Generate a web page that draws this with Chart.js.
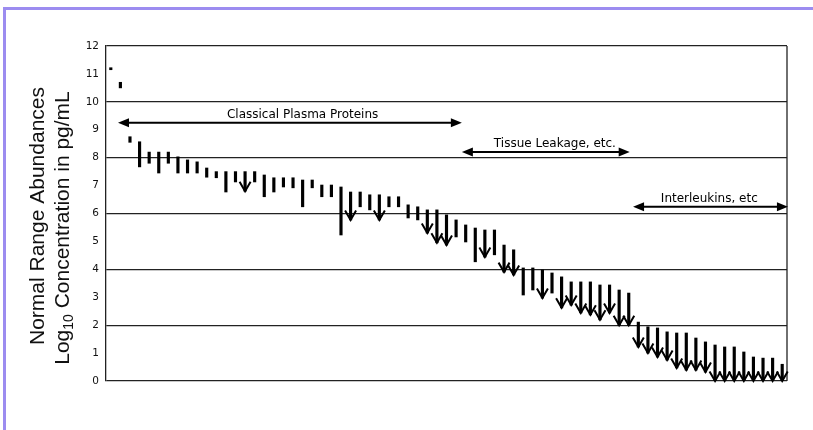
<!DOCTYPE html>
<html>
<head>
<meta charset="utf-8">
<title>Normal range abundances</title>
<script src="https://cdn.jsdelivr.net/npm/chart.js@4.4.1/dist/chart.umd.min.js"></script>
<style>
  html, body { margin: 0; padding: 0; background: #fff; }
  #frame {
    position: absolute; left: 3px; top: 7px; width: 810px; height: 423px;
    border-top: 3px solid #9c8cf0; border-left: 3px solid #9c8cf0;
    box-sizing: border-box;
  }
  #wrap { position: absolute; left: 0; top: 0; width: 813px; height: 430px; }
</style>
</head>
<body>
<div id="frame"></div>
<div id="wrap"><canvas id="chart"></canvas></div>
<script>
// log10 pg/mL, one entry per protein (left = most abundant)
const lowValues = [
  11.15, 10.5, 8.55, 7.67, 7.8, 7.45, 7.8, 7.45, 7.45, 7.45,
  7.3, 7.28, 6.77, 7.13, 6.8, 7.13, 6.6, 6.77, 6.95, 6.92,
  6.24, 6.92, 6.6, 6.6, 5.23, 5.77, 6.24, 6.13, 5.77, 6.24,
  6.24, 5.84, 5.77, 5.3, 4.95, 4.87, 5.16, 4.98, 4.27, 4.44,
  4.52, 3.9, 3.8, 3.08, 3.26, 2.97, 3.15, 2.62, 2.72, 2.44,
  2.37, 2.19, 2.44, 2.0, 2.0, 1.22, 1.0, 0.86, 0.75, 0.47,
  0.39, 0.39, 0.32, 0, 0, 0, 0, 0, 0, 0,
  0
];
const highValues = [
  11.2, 10.7, 8.75, 8.57, 8.2, 8.2, 8.2, 8.03, 7.92, 7.85,
  7.63, 7.5, 7.5, 7.5, 7.5, 7.5, 7.38, 7.28, 7.28, 7.28,
  7.2, 7.2, 7.02, 7.02, 6.95, 6.77, 6.77, 6.67, 6.67, 6.6,
  6.6, 6.31, 6.24, 6.13, 6.13, 5.95, 5.77, 5.59, 5.48, 5.41,
  5.41, 4.87, 4.7, 4.05, 4.05, 3.98, 3.87, 3.73, 3.55, 3.55,
  3.55, 3.44, 3.44, 3.26, 3.15, 2.11, 1.94, 1.9, 1.76, 1.72,
  1.72, 1.54, 1.4, 1.29, 1.22, 1.22, 1.04, 0.86, 0.82, 0.82,
  0.6
];
// 1 = lower end is an upper bound only (drawn with an arrow)
const arrowFlags = [
  0, 0, 0, 0, 0, 0, 0, 0, 0, 0,
  0, 0, 0, 0, 1, 0, 0, 0, 0, 0,
  0, 0, 0, 0, 0, 1, 0, 0, 1, 0,
  0, 0, 0, 1, 1, 1, 0, 0, 0, 1,
  0, 1, 1, 0, 0, 1, 0, 1, 1, 1,
  1, 1, 1, 1, 1, 1, 1, 1, 1, 1,
  1, 1, 1, 1, 1, 1, 1, 1, 1, 1,
  1
];
const proteins = lowValues.map((v, i) => 'Protein ' + (i + 1));

const yTicks = [0, 1, 2, 3, 4, 5, 6, 7, 8, 9, 10, 11, 12];

// range labels: from / to / text position in protein index, height in log10 units
const groupLabels = ['Classical Plasma Proteins', 'Tissue Leakage, etc.', 'Interleukins, etc'];
const groupFrom = [0.75, 36.6, 54.45];
const groupTo = [36.6, 54.1, 70.6];
const groupTextAt = [20.0, 46.3, 62.4];
const groupLevel = [9.25, 8.2, 6.24];

function xAt(scale, idx) {
    // fractional category position
    const a = scale.getPixelForValue(Math.floor(idx));
    const b = scale.getPixelForValue(Math.floor(idx) + 1);
    return a + (b - a) * (idx - Math.floor(idx));
}

function arrowHead(ctx, x, y, dir) {
    ctx.beginPath();
    ctx.moveTo(x, y);
    ctx.lineTo(x - dir * 11, y - 4.5);
    ctx.lineTo(x - dir * 11, y + 4.5);
    ctx.closePath();
    ctx.fill();
}

const extrasPlugin = {
    id: 'extras',
    afterDatasetsDraw(chart) {
        const ctx = chart.ctx;
        const xs = chart.scales.x;
        const ys = chart.scales.y;
        const area = chart.chartArea;

        // right edge of the box
        ctx.save();
        ctx.strokeStyle = '#222';
        ctx.lineWidth = 1.3;
        ctx.beginPath();
        ctx.moveTo(area.right, area.top);
        ctx.lineTo(area.right, area.bottom);
        ctx.stroke();

        // downward arrow heads
        ctx.strokeStyle = '#000';
        ctx.lineWidth = 2;
        ctx.lineJoin = 'miter';
        arrowFlags.forEach((f, i) => {
            if (!f) return;
            const x = xs.getPixelForValue(i);
            const y = ys.getPixelForValue(lowValues[i]);
            ctx.beginPath();
            ctx.moveTo(x - 5.5, y - 9.5);
            ctx.lineTo(x, y);
            ctx.lineTo(x + 5.5, y - 9.5);
            ctx.stroke();
        });

        // group ranges
        ctx.fillStyle = '#000';
        ctx.font = '12px "DejaVu Sans"';
        ctx.textAlign = 'center';
        ctx.textBaseline = 'alphabetic';
        groupLabels.forEach((label, i) => {
            const x1 = xAt(xs, groupFrom[i]);
            const x2 = xAt(xs, groupTo[i]);
            const y = ys.getPixelForValue(groupLevel[i]);
            ctx.lineWidth = 2;
            ctx.beginPath();
            ctx.moveTo(x1 + 6, y);
            ctx.lineTo(x2 - 6, y);
            ctx.stroke();
            arrowHead(ctx, x1, y, -1);
            arrowHead(ctx, x2, y, 1);
            ctx.fillText(label, xAt(xs, groupTextAt[i]), y - 5);
        });
        ctx.restore();
    },
    afterDraw(chart) {
        // axis title, two lines, with subscript
        const ctx = chart.ctx;
        ctx.save();
        ctx.fillStyle = '#111';
        ctx.textBaseline = 'middle';

        ctx.save();
        ctx.translate(38, 216);
        ctx.rotate(-Math.PI / 2);
        ctx.textAlign = 'center';
        ctx.font = '21px "Liberation Sans", Arial, sans-serif';
        ctx.fillText('Normal Range Abundances', 0, 0);
        ctx.restore();

        ctx.save();
        ctx.translate(63, 228);
        ctx.rotate(-Math.PI / 2);
        ctx.textAlign = 'left';
        const big = '21px "Liberation Sans", Arial, sans-serif';
        const small = '14px "Liberation Sans", Arial, sans-serif';
        ctx.font = big;
        const w1 = ctx.measureText('Log').width;
        const w3 = ctx.measureText(' Concentration in pg/mL').width;
        ctx.font = small;
        const w2 = ctx.measureText('10').width;
        let x = -(w1 + w2 + w3) / 2;
        ctx.font = big;
        ctx.fillText('Log', x, 0);
        x += w1;
        ctx.font = small;
        ctx.fillText('10', x, 6);
        x += w2;
        ctx.font = big;
        ctx.fillText(' Concentration in pg/mL', x, 0);
        ctx.restore();

        ctx.restore();
    }
};

const chart = new Chart(document.getElementById('chart'), {
    type: 'bar',
    data: {
        labels: proteins,
        datasets: [{
            data: lowValues.map((lo, i) => [lo, highValues[i]]),
            backgroundColor: '#000',
            borderWidth: 0,
            barThickness: 2.5,
            minBarLength: 2,
        }]
    },
    options: {
        responsive: true,
        maintainAspectRatio: false,
        animation: false,
        layout: { padding: { top: 46, right: 26, bottom: 49, left: 0 } },
        plugins: {
            legend: { display: false },
            tooltip: { enabled: false }
        },
        scales: {
            x: { display: false },
            y: {
                min: 0,
                max: 12,
                afterFit: (scale) => { scale.width = 106; },
                afterBuildTicks: (scale) => { scale.ticks = yTicks.map(v => ({ value: v })); },
                ticks: {
                    color: '#111',
                    padding: 7,
                    font: { family: 'DejaVu Sans', size: 10.5 }
                },
                grid: {
                    drawTicks: false,
                    lineWidth: 1.3,
                    color: (c) => (c.tick && c.tick.value % 2 === 0) ? '#222' : 'rgba(0,0,0,0)'
                },
                border: { display: true, color: '#222', width: 1.3 }
            }
        }
    },
    plugins: [extrasPlugin]
});
</script>
</body>
</html>
